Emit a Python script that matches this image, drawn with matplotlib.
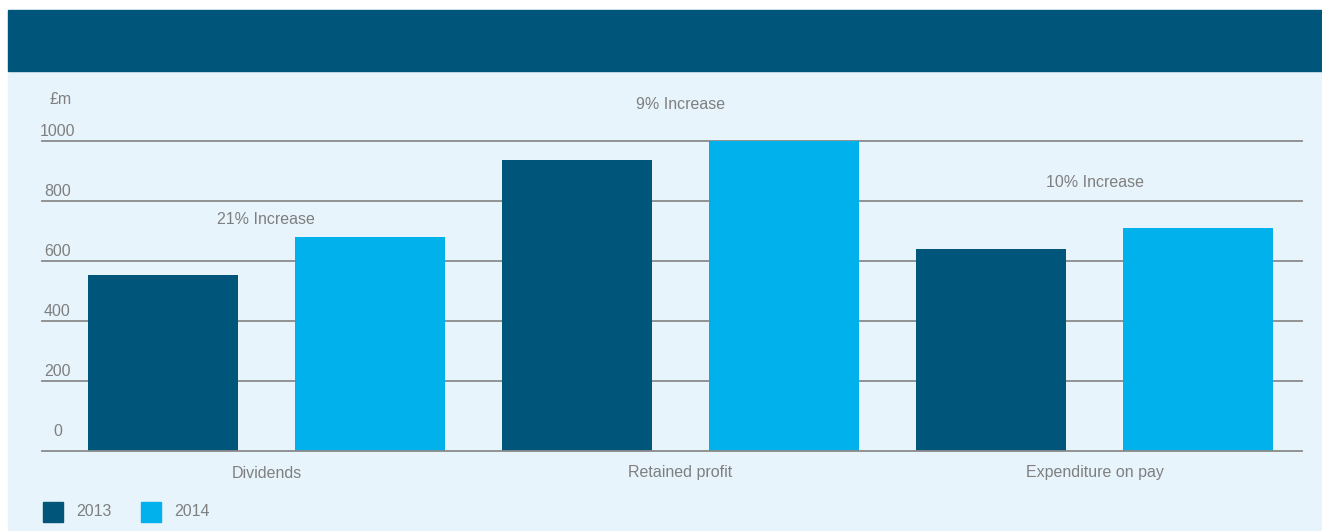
import matplotlib
matplotlib.use('Agg')
import matplotlib.pyplot as plt
from matplotlib.patches import Rectangle
from matplotlib.transforms import blended_transform_factory
import numpy as np

# data (£m)
categories = ['Dividends', 'Retained profit', 'Expenditure on pay']
values_2013 = [553, 937, 640]
values_2014 = [680, 1000, 710]
notes = ['21% Increase', '9% Increase', '10% Increase']
years = ['2013', '2014']
yticks = [0, 200, 400, 600, 800, 1000]

DARK = '#00557a'
LIGHT = '#00b1eb'
BG = '#e8f4fc'
TXT = '#7f7f7f'
GRID = '#8a8a8a'

plt.rcParams['font.family'] = ['Liberation Sans', 'DejaVu Sans']
W, H = 1322, 531
fig = plt.figure(figsize=(W / 100, H / 100), dpi=100)
fig.patch.set_facecolor('white')

# background panel + header band
fig.patches.append(Rectangle((8 / W, 0), 1 - 8 / W, 1 - 71 / H,
                             transform=fig.transFigure, color=BG, zorder=-2))
fig.patches.append(Rectangle((8 / W, 1 - 71 / H), 1 - 8 / W, 61 / H,
                             transform=fig.transFigure, color=DARK, zorder=-2))

ax = fig.add_axes([42 / W, 80 / H, 1260 / W, 310 / H])
ax.set_zorder(2)
ax.set_facecolor('none')
for s in ax.spines.values():
    s.set_visible(False)
ax.set_xticks([])
ax.set_yticks([])

# baseline sits a little below zero, bars start from it
base = -33.3
ax.set_xlim(-0.542, 2.501)
ax.set_ylim(base, 1000)

x = np.arange(len(categories))
bw = 0.362
ax.bar(x - 0.25, np.array(values_2013) - base, bw, bottom=base, color=DARK, zorder=2)
ax.bar(x + 0.25, np.array(values_2014) - base, bw, bottom=base, color=LIGHT, zorder=2)

for t in yticks[1:]:
    ax.axhline(t, color=GRID, lw=1.3, zorder=1, clip_on=False)
ax.axhline(base, color=GRID, lw=1.3, zorder=3, clip_on=False)

# y tick labels sit above their gridline
tr = blended_transform_factory(ax.transAxes, ax.transData)
for t in yticks:
    ax.annotate(str(t), xy=(0, t), xycoords=tr, xytext=(15.5, 10),
                textcoords='offset pixels', ha='center', va='center',
                fontsize=11.5, color=TXT)

fig.text(61 / W, 1 - 100 / H, '£m', ha='center', va='center',
         fontsize=11.5, color=TXT)

for i, c in enumerate(categories):
    ax.annotate(c, xy=(i, base), xytext=(0, -22), textcoords='offset pixels',
                ha='center', va='center', fontsize=11.5, color=TXT)

note_y = [740, 1123, 862]
for i, n in enumerate(notes):
    ax.text(i, note_y[i], n, ha='center', va='center', fontsize=11.5,
            color=TXT, clip_on=False)

# legend
for k, (yr, col) in enumerate(zip(years, [DARK, LIGHT])):
    x0 = 43 + k * 98
    fig.patches.append(Rectangle((x0 / W, 1 - 522 / H), 20 / W, 20 / H,
                                 transform=fig.transFigure, color=col))
    fig.text((x0 + 33) / W, 1 - 512 / H, yr, ha='left', va='center',
             fontsize=11.5, color=TXT)

fig.savefig('out.png', dpi=100)
